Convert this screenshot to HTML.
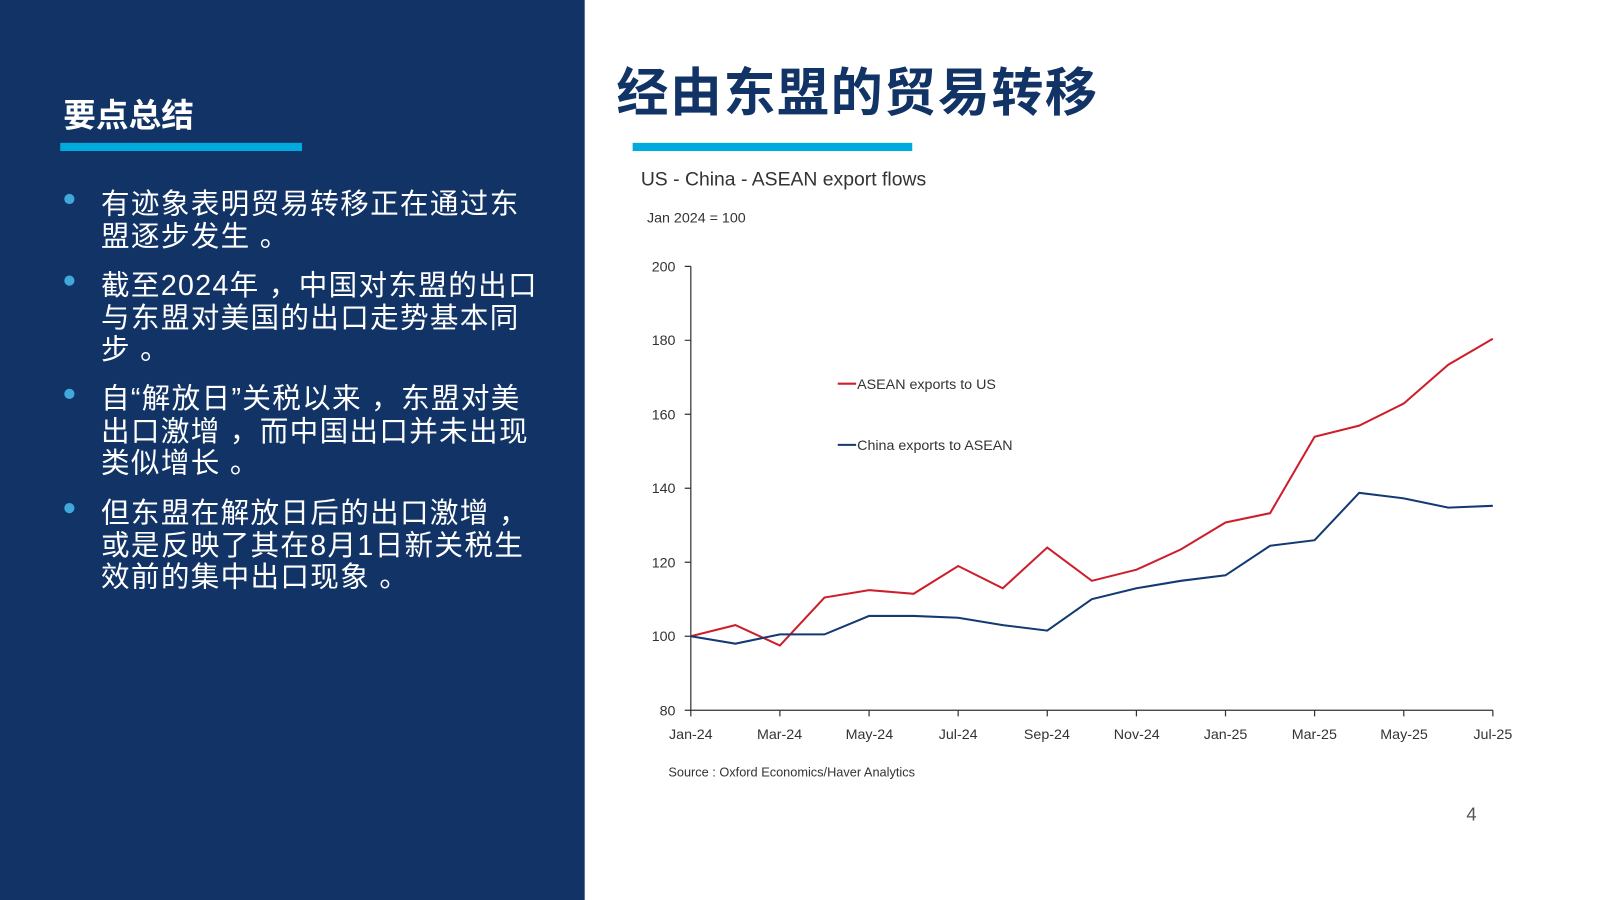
<!DOCTYPE html>
<html><head><meta charset="utf-8"><style>
html,body{margin:0;padding:0;width:1600px;height:900px;overflow:hidden;background:#fff}
#s{position:absolute;left:0;top:0;width:1568px;height:882px;transform:scale(1.020408);transform-origin:0 0;font-family:"Liberation Sans","Noto Sans CJK SC",sans-serif}
.L{position:absolute;left:0;top:0;width:573px;height:882px;background:#113366}
.h{position:absolute;left:62px;top:88px;color:#fff;font-size:32px;font-weight:bold}
.bar{position:absolute;height:8px;background:#00aadd}
.bl{position:absolute;left:99px;color:#fff;font-size:28px;line-height:31.5px;letter-spacing:1.3px;white-space:nowrap}
.dot{position:absolute;left:63px;width:10px;height:10px;border-radius:50%;background:#3fa9dc}
.t{position:absolute;left:604px;top:50px;color:#113366;font-size:51px;font-weight:bold;letter-spacing:1.5px}
</style></head><body><div id="s">
<div class="L"></div>
<div class="h">要点总结</div>
<div class="bar" style="left:59px;top:140px;width:237px"></div>
<div class="dot" style="top:190px"></div>
<div class="bl" style="top:184px">有迹象表明贸易转移正在通过东<br>盟逐步发生 。</div>
<div class="dot" style="top:270px"></div>
<div class="bl" style="top:264px">截至2024年 ，中国对东盟的出口<br>与东盟对美国的出口走势基本同<br>步 。</div>
<div class="dot" style="top:381px"></div>
<div class="bl" style="top:375px">自“解放日”关税以来 ，东盟对美<br>出口激增 ，而中国出口并未出现<br>类似增长 。</div>
<div class="dot" style="top:493px"></div>
<div class="bl" style="top:487px">但东盟在解放日后的出口激增 ，<br>或是反映了其在8月1日新关税生<br>效前的集中出口现象 。</div>
<div class="t">经由东盟的贸易转移</div>
<div class="bar" style="left:620px;top:140px;width:274px"></div>
<svg style="position:absolute;left:0;top:0" width="1568" height="882" font-family="Liberation Sans,sans-serif">
<text x="628" y="182" font-size="19" fill="#333">US - China - ASEAN export flows</text>
<text x="634" y="218" font-size="14" fill="#333">Jan 2024 = 100</text>
<g stroke="#333" stroke-width="1.2" fill="none">
<path d="M677 261V696H1463"/>
<path d="M671 261H677M671 333.5H677M671 406H677M671 478.5H677M671 551H677M671 623.5H677M671 696H677"/>
<path d="M677 696v6M764.3 696v6M851.7 696v6M939 696v6M1026.3 696v6M1113.7 696v6M1201 696v6M1288.3 696v6M1375.7 696v6M1463 696v6"/>
</g>
<g font-size="14" fill="#333" text-anchor="end">
<text x="662" y="266">200</text><text x="662" y="338">180</text><text x="662" y="411">160</text><text x="662" y="483">140</text><text x="662" y="556">120</text><text x="662" y="628">100</text><text x="662" y="701">80</text>
</g>
<g font-size="14" fill="#333" text-anchor="middle">
<text x="677" y="724">Jan-24</text><text x="764" y="724">Mar-24</text><text x="852" y="724">May-24</text><text x="939" y="724">Jul-24</text><text x="1026" y="724">Sep-24</text><text x="1114" y="724">Nov-24</text><text x="1201" y="724">Jan-25</text><text x="1288" y="724">Mar-25</text><text x="1376" y="724">May-25</text><text x="1463" y="724">Jul-25</text>
</g>
<polyline fill="none" stroke="#cc1f2b" stroke-width="2" points="677,623.5 720.7,612.6 764.3,632.6 808,585.6 851.7,578.3 895.3,581.9 939,554.7 982.7,576.5 1026.3,536.6 1070,569.2 1113.7,558.3 1157.3,538.4 1201,512 1244.7,502.9 1288.3,428 1332,417.1 1375.7,395.4 1419.3,357.4 1463,332"/>
<polyline fill="none" stroke="#133a73" stroke-width="2" points="677,623.5 720.7,630.8 764.3,621.7 808,621.7 851.7,603.6 895.3,603.6 939,605.4 982.7,612.6 1026.3,618 1070,587.2 1113.7,576.5 1157.3,569.2 1201,563.8 1244.7,534.8 1288.3,529.4 1332,483 1375.7,488.4 1419.3,497.5 1463,495.7"/>
<line x1="821" y1="376" x2="839" y2="376" stroke="#cc1f2b" stroke-width="2"/>
<text x="840" y="381" font-size="14" fill="#333">ASEAN exports to US</text>
<line x1="821" y1="436" x2="839" y2="436" stroke="#133a73" stroke-width="2"/>
<text x="840" y="441" font-size="14" fill="#333">China exports to ASEAN</text>
<text x="655" y="761" font-size="12.5" fill="#333">Source : Oxford Economics/Haver Analytics</text>
<text x="1437" y="804" font-size="18" fill="#555">4</text>
</svg>
</div></body></html>
